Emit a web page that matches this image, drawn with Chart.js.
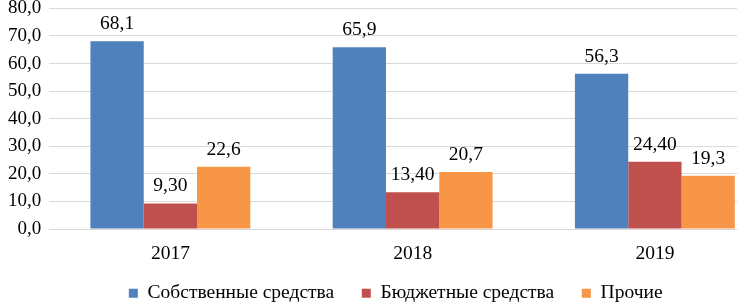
<!DOCTYPE html>
<html>
<head>
<meta charset="utf-8">
<script src="https://cdn.jsdelivr.net/npm/chart.js@4/dist/chart.umd.min.js"></script>
<style>
  html, body { margin: 0; padding: 0; background: #fff; overflow: hidden; }
  #wrap { width: 790px; height: 324px; margin-top: -11px; }
</style>
</head>
<body>
<div id="wrap"><canvas id="finChart" width="790" height="324"></canvas></div>
<script>
const years = ['2017', '2018', '2019'];
const ownFunds = [68.1, 65.9, 56.3];
const budgetFunds = [9.3, 13.4, 24.4];
const otherFunds = [22.6, 20.7, 19.3];
const yTicks = [0, 10, 20, 30, 40, 50, 60, 70, 80];

const FONT = "'Liberation Serif', 'Times New Roman', serif";
Chart.defaults.font.family = FONT;
Chart.defaults.font.size = 19;
Chart.defaults.color = '#000';

// подписи над столбцами (datalabels нет, рисуем сами)
const valueLabels = {
  id: 'valueLabels',
  afterDatasetsDraw(chart) {
    const ctx = chart.ctx;
    ctx.save();
    ctx.font = '19.5px ' + FONT;
    ctx.fillStyle = '#000';
    ctx.textAlign = 'center';
    ctx.textBaseline = 'alphabetic';
    chart.data.datasets.forEach((ds, i) => {
      chart.getDatasetMeta(i).data.forEach((bar, j) => {
        const txt = ds.data[j].toFixed(ds.digits).replace('.', ',');
        ctx.fillText(txt, bar.x, bar.y - 12);
      });
    });
    ctx.restore();
  }
};

// легенду чуть правее, как в оригинале
const legendShift = {
  id: 'legendShift',
  afterLayout(chart) {
    chart.legend.left += 15;
    chart.legend.right += 15;
  }
};

const ctx = document.getElementById('finChart').getContext('2d');
new Chart(ctx, {
  type: 'bar',
  data: {
    labels: years,
    datasets: [
      { label: 'Собственные средства', data: ownFunds, backgroundColor: '#4F81BD', digits: 1 },
      { label: 'Бюджетные средства', data: budgetFunds, backgroundColor: '#C0504D', digits: 2 },
      { label: 'Прочие', data: otherFunds, backgroundColor: '#F79646', digits: 1 }
    ]
  },
  options: {
    responsive: false,
    animation: false,
    layout: { padding: { left: 0, right: 14, top: 0, bottom: 0 } },
    datasets: { bar: { categoryPercentage: 0.66, barPercentage: 1 } },
    plugins: {
      legend: {
        position: 'bottom',
        labels: {
          font: { family: FONT, size: 19.5 },
          boxWidth: 9,
          boxHeight: 9,
          padding: 13,
          // лишние пробелы в конце — чтобы разнести элементы легенды пошире
          generateLabels(chart) {
            return Chart.defaults.plugins.legend.labels.generateLabels(chart)
              .map(l => ({ ...l, text: l.text + '\u2002 ' }));
          }
        }
      },
      tooltip: { enabled: false }
    },
    scales: {
      x: {
        grid: { display: false },
        border: { color: '#d9d9d9' },
        ticks: { font: { family: FONT, size: 19.5 }, padding: 5 }
      },
      y: {
        min: 0,
        max: 80,
        afterBuildTicks(axis) { axis.ticks = yTicks.map(v => ({ value: v })); },
        grid: { color: '#d9d9d9', drawTicks: false },
        border: { display: false },
        ticks: {
          font: { family: FONT, size: 19 },
          autoSkip: false,
          padding: 8,
          callback: v => v.toFixed(1).replace('.', ',')
        }
      }
    }
  },
  plugins: [valueLabels, legendShift]
});
</script>
</body>
</html>
